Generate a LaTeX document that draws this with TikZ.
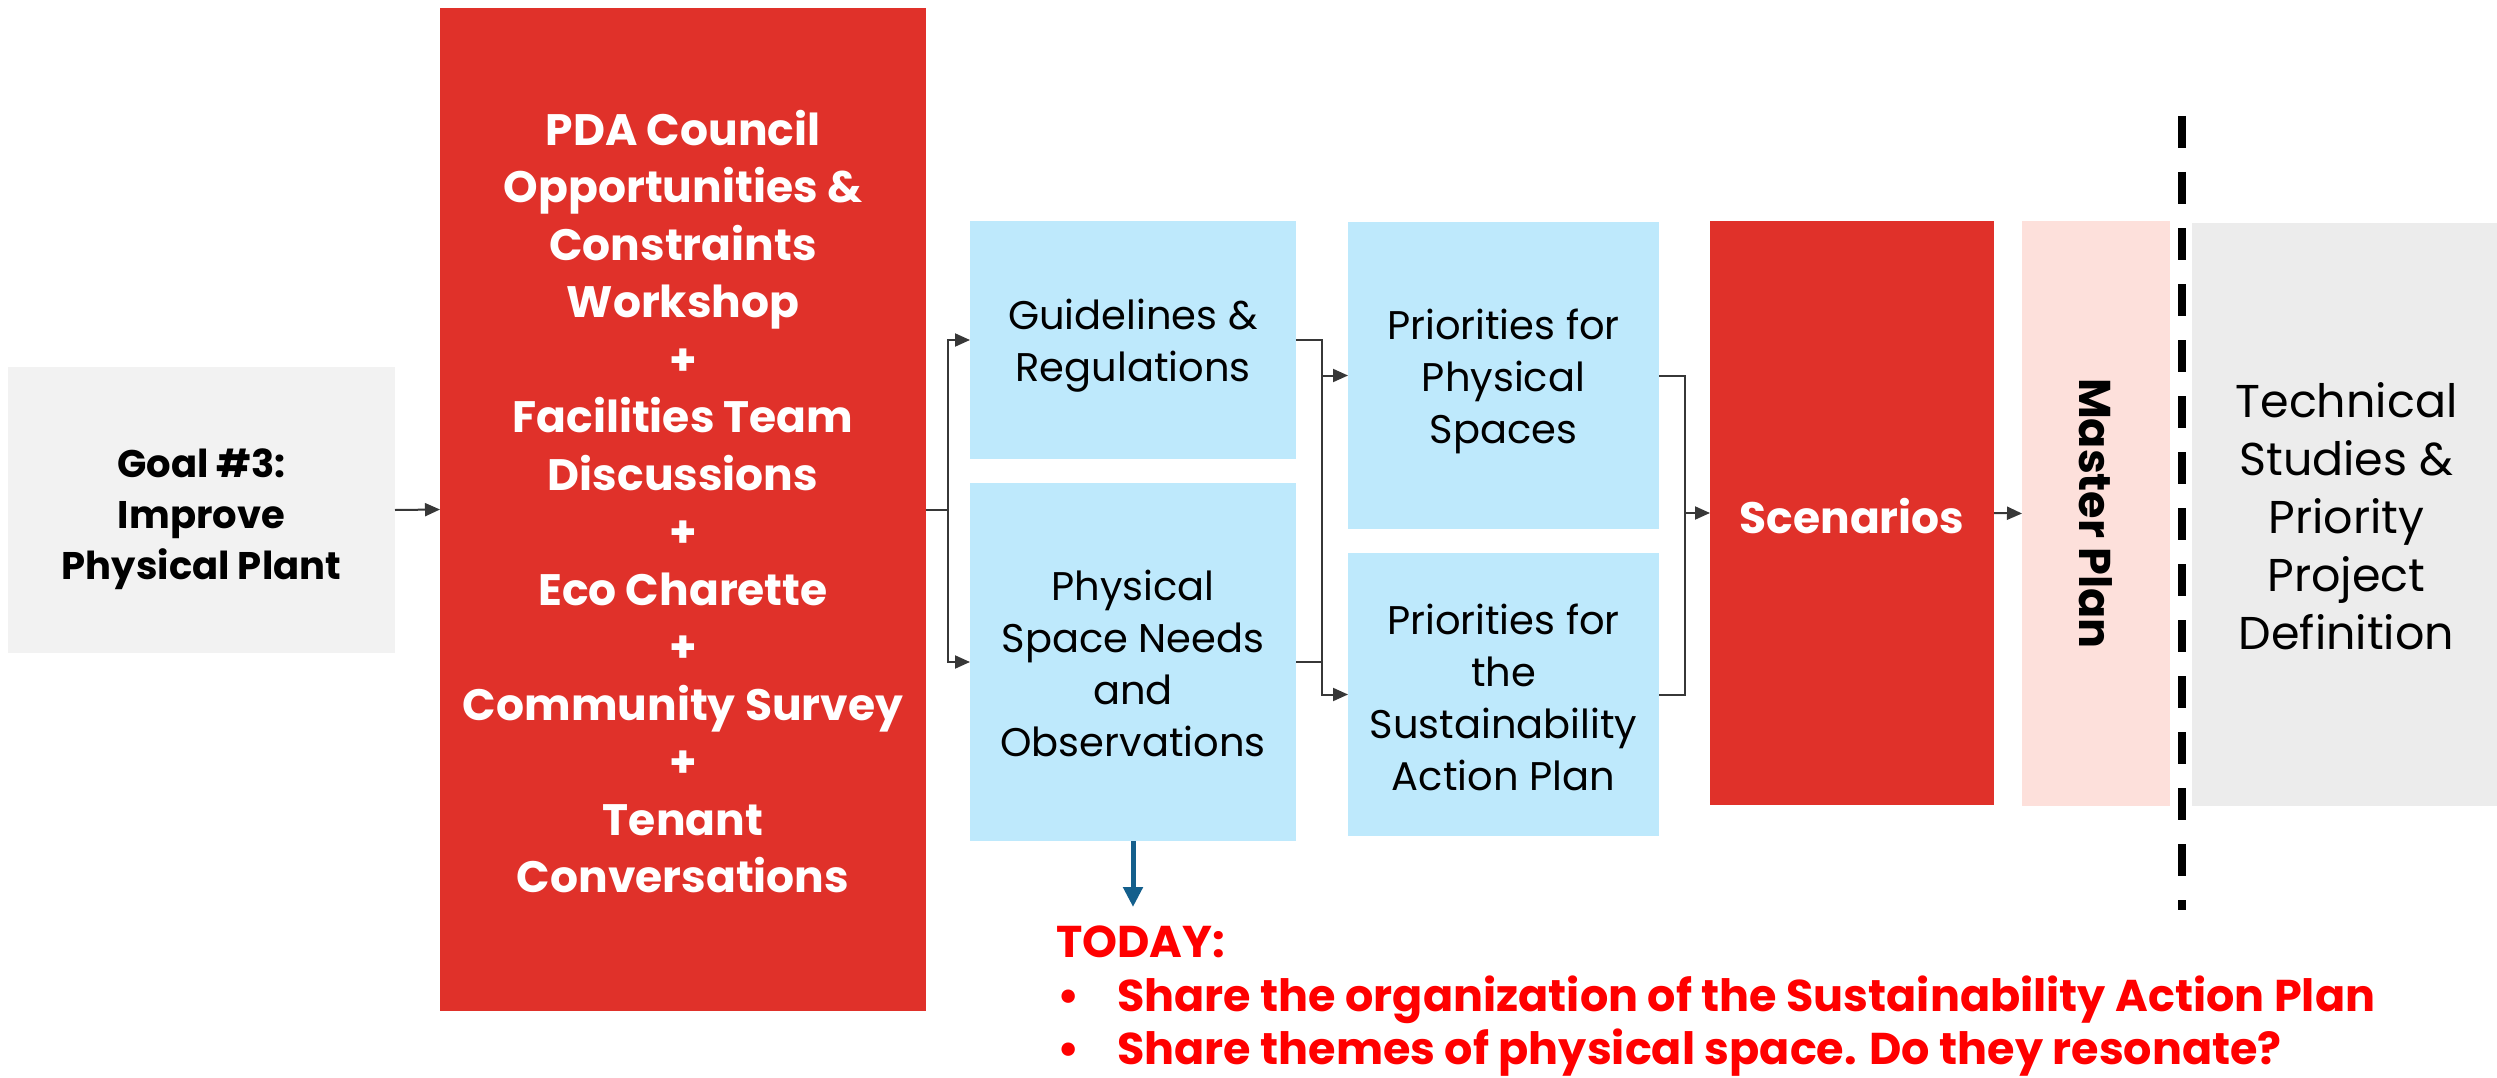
\documentclass[tikz,border=0pt]{standalone}
\usepackage{fontspec}
\setsansfont{Poppins}
\usetikzlibrary{arrows.meta}

\definecolor{redbox}{RGB}{224,49,42}
\definecolor{bluebox}{RGB}{190,233,252}
\definecolor{goalgray}{RGB}{242,242,242}
\definecolor{techgray}{RGB}{236,236,236}
\definecolor{planpink}{RGB}{253,224,219}
\definecolor{todayred}{RGB}{255,0,0}
\definecolor{pointer}{RGB}{20,95,140}
\definecolor{wirecol}{RGB}{55,55,55}

\newcommand\fsz[2]{\fontsize{#1}{#2}\selectfont}

\begin{document}
\begin{tikzpicture}[x=1pt,y=-1pt,
  box/.style={rectangle,inner sep=0pt,outer sep=0pt},
  label text/.style={inner sep=0pt,align=center},
  boldtxt/.style={label text,font=\sffamily\bfseries\fsz{44}{57.5}},
  plaintxt/.style={label text,font=\sffamily\fsz{40}{52}},
  wire/.style={draw=wirecol,line width=2pt},
  flowarrow/.style={wire,-{Triangle[length=15pt,width=13pt]}},
  pointerarrow/.style={draw=pointer,line width=5pt,-{Triangle[length=20pt,width=19pt]}},
  todaytxt/.style={inner sep=0pt,anchor=base west,text=todayred,font=\sffamily\bfseries\fsz{44.5}{56}}]

\useasboundingbox (0,0) rectangle (2497,1078);

% input goal
\node[box,fill=goalgray,minimum width=387pt,minimum height=286pt] (goal) at (201.5,510) {};
\node[label text,font=\sffamily\bfseries\fsz{38.5}{51},yshift=-9pt] (goaltext) at (goal.center)
  {Goal \#3:\\Improve\\Physical Plant};

% engagement activities
\node[box,fill=redbox,minimum width=486pt,minimum height=1003pt] (pda) at (683,509.5) {};
\node[boldtxt,text=white,yshift=8pt] (pdatext) at (pda.center)
  {PDA Council\\Opportunities \&\\Constraints\\Workshop\\+\\Facilities Team\\Discussions\\+\\Eco Charette\\+\\Community Survey\\+\\Tenant\\Conversations};

% findings
\node[box,fill=bluebox,minimum width=326pt,minimum height=238pt] (guide) at (1133,340) {};
\node[plaintxt,yshift=-6pt] (guidetext) at (guide.center) {Guidelines \&\\Regulations};
\node[box,fill=bluebox,minimum width=326pt,minimum height=358pt] (needs) at (1133,662) {};
\node[plaintxt,yshift=-1.5pt] (needstext) at (needs.center) {Physical\\Space Needs\\and\\Observations};

% priorities
\node[box,fill=bluebox,minimum width=311pt,minimum height=307pt] (prphys) at (1503.5,375.5) {};
\node[plaintxt,yshift=-6pt] (prphystext) at (prphys.center) {Priorities for\\Physical\\Spaces};
\node[box,fill=bluebox,minimum width=311pt,minimum height=283pt] (prsap) at (1503.5,694.5) {};
\node[plaintxt,yshift=-3pt] (prsaptext) at (prsap.center) {Priorities for\\the\\Sustainability\\Action Plan};

% scenarios, master plan, next phase
\node[box,fill=redbox,minimum width=284pt,minimum height=584pt] (scen) at (1852,513) {};
\node[boldtxt,text=white,yshift=-3pt] (scentext) at (scen.center) {Scenarios};
\node[box,fill=planpink,minimum width=148pt,minimum height=585pt] (master) at (2096,513.5) {};
\node[label text,font=\sffamily\bfseries\fsz{44.5}{57.5},rotate=-90] (mastertext) at (master.center) {Master Plan};
\node[box,fill=techgray,minimum width=305pt,minimum height=583pt] (tech) at (2344.5,514.5) {};
\node[label text,font=\sffamily\fsz{46}{58},xshift=2pt,yshift=-2pt] (techtext) at (tech.center)
  {Technical\\Studies \&\\Priority\\Project\\Definition};

% phase boundary
\coordinate (cutA) at (2182,116);
\coordinate (cutB) at (2182,910);
\draw[line width=7.3pt,dash pattern=on 32pt off 24pt] (cutA) -- (cutB);

% connectors
\draw[flowarrow] (goal.east) -- (pda.west);

\coordinate (split) at (948,509.5);
\draw[wire] (pda.east) -- (split);
\draw[flowarrow] (split) |- (guide.west);
\draw[flowarrow] (split) |- (needs.west);

\coordinate (merge1) at (1322,0);
\draw[flowarrow] (guide.east) -| (merge1 |- prsap.west) -- (prsap.west);
\draw[wire] (needs.east) -- (needs.east -| merge1);
\draw[flowarrow] (merge1 |- prphys.west) -- (prphys.west);

\coordinate (merge2) at (1685,0);
\draw[wire] (prphys.east) -| (merge2 |- prsap.east) -- (prsap.east);
\draw[flowarrow] (merge2 |- scen.west) -- (scen.west);

\draw[flowarrow] (scen.east) -- (master.west);

% today's focus
\coordinate (todaytip) at (1133,907);
\draw[pointerarrow] (needs.south) -- (todaytip);

\node[todaytxt] (today) at (1056,957) {TODAY:};
\node[todaytxt] (bulA) at (1057,1011) {\textbullet};
\node[todaytxt] (itemA) at (1117,1011) {Share the organization of the Sustainability Action Plan};
\node[todaytxt] (bulB) at (1057,1064) {\textbullet};
\node[todaytxt] (itemB) at (1117,1064) {Share themes of physical space. Do they resonate?};

\end{tikzpicture}
\end{document}
